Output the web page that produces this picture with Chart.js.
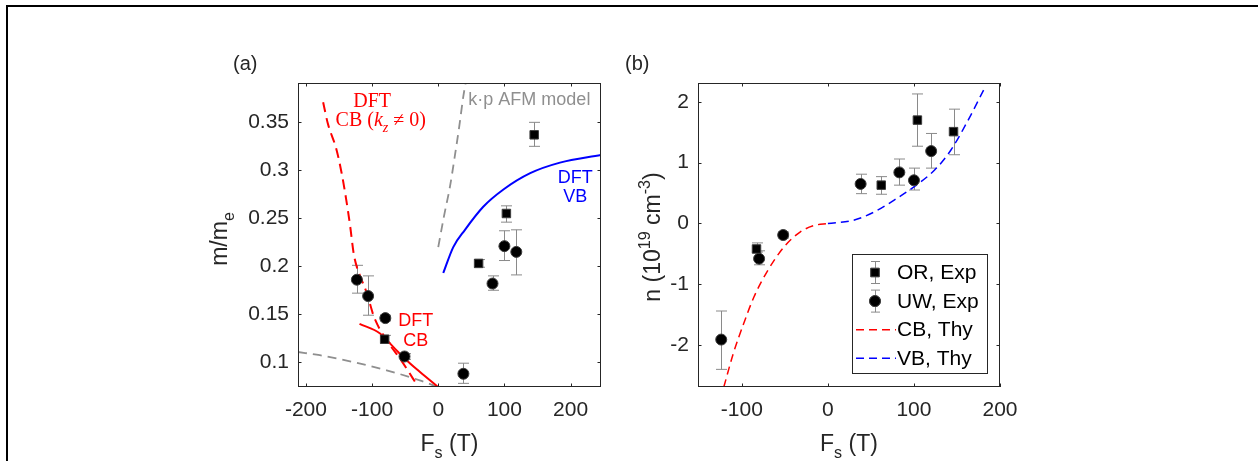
<!DOCTYPE html>
<html>
<head>
<meta charset="utf-8">
<script src="https://cdn.jsdelivr.net/npm/chart.js@4.4.1/dist/chart.umd.min.js"></script>
<style>
  html, body { margin: 0; padding: 0; background: #fff; }
  #wrap { position: relative; width: 1258px; height: 461px; overflow: hidden; }
  #frame { position: absolute; left: 6px; top: 5px; width: 1300px; height: 500px;
           border-top: 2px solid #000; border-left: 2px solid #000; }
  canvas { position: absolute; left: 0; top: 0; }
</style>
</head>
<body>
<div id="wrap">
  <div id="frame"></div>
  <canvas id="chartA" width="1258" height="461"></canvas>
  <canvas id="chartB" width="1258" height="461"></canvas>
</div>
<script>
// ---- panel (a): effective mass ----
const xTicksA = [-200, -100, 0, 100, 200]
const yTicksA = [0.1, 0.15, 0.2, 0.25, 0.3, 0.35]

const orA_x = [145, 103, 61, -81]
const orA_y = [0.337, 0.255, 0.203, 0.124]
const orA_lo = [0.325, 0.246, 0.199, 0.120]
const orA_hi = [0.350, 0.263, 0.207, 0.128]

const uwA_x = [-123, -106, -80, -51, 38, 82, 100, 118]
const uwA_y = [0.186, 0.169, 0.146, 0.106, 0.088, 0.182, 0.221, 0.215]
const uwA_lo = [0.172, 0.149, 0.143, 0.103, 0.078, 0.175, 0.206, 0.191]
const uwA_hi = [0.201, 0.190, 0.149, 0.109, 0.099, 0.190, 0.237, 0.238]

const cbKzA_x = [-174, -167, -154, -146, -139, -133, -128, -123, -117, -108, -97, -78, -56, -30]
const cbKzA_y = [0.371, 0.349, 0.322, 0.297, 0.269, 0.241, 0.214, 0.199, 0.188, 0.172, 0.147, 0.123, 0.102, 0.074]
const cbA_x = [-119, -88, -68, -48, -28, 0]
const cbA_y = [0.140, 0.130, 0.116, 0.102, 0.090, 0.074]
const kpLowA_x = [-212, -179, -129, -78, -28, 0]
const kpLowA_y = [0.1107, 0.1073, 0.1003, 0.0916, 0.0811, 0.074]
const kpUpA_x = [0, 8.6, 17.7, 25.3, 31.8, 37.9, 41.4]
const kpUpA_y = [0.220, 0.252, 0.283, 0.316, 0.346, 0.377, 0.391]
const vbA_x = [7.6, 22.7, 40.4, 68, 98.5, 139, 184, 246]
const vbA_y = [0.193, 0.220, 0.238, 0.262, 0.280, 0.297, 0.308, 0.316]

// ---- panel (b): carrier density ----
const xTicksB = [-100, 0, 100, 200]
const yTicksB = [-2, -1, 0, 1, 2]

const orB_x = [-83, 62, 104, 146]
const orB_y = [-0.42, 0.63, 1.70, 1.51]
const orB_lo = [-0.47, 0.48, 1.27, 1.13]
const orB_hi = [-0.32, 0.77, 2.13, 1.88]

const uwB_x = [-124, -80, -52, 38, 83, 100, 120]
const uwB_y = [-1.91, -0.58, -0.19, 0.65, 0.84, 0.71, 1.19]
const uwB_lo = [-2.40, -0.68, -0.24, 0.49, 0.63, 0.55, 0.91]
const uwB_hi = [-1.44, -0.45, -0.14, 0.81, 1.06, 0.91, 1.48]

const cbB_x = [-121, -110, -98, -86, -71, -51, -32, -16, 0]
const cbB_y = [-2.69, -2.14, -1.65, -1.21, -0.80, -0.385, -0.138, -0.034, 0]
const vbB_x = [0, 30, 54, 77, 100, 124, 143, 163, 181]
const vbB_y = [0, 0.054, 0.19, 0.384, 0.603, 0.878, 1.208, 1.70, 2.196]

const SANS = '"Liberation Sans", Arial, Helvetica, sans-serif'
const SERIF = '"Liberation Serif", "DejaVu Serif", serif'
const INK = '#262626'
const ERR = '#8a8a8a'
const TICK_FONT = 21
const TITLE_FONT = 23

const pts = (xs, ys) => xs.map((x, i) => ({ x: x, y: ys[i] }))

function drawRich(ctx, parts, x, y, o) {
    const size = o.size, family = o.family || SANS
    const fontOf = p => (p.italic ? 'italic ' : '') + ((p.sub || p.sup) ? size * 0.7 : size) + 'px ' + family
    let total = 0
    parts.forEach(p => { ctx.font = fontOf(p); p.w = ctx.measureText(p.t).width; total += p.w })
    ctx.save()
    ctx.translate(x, y)
    ctx.rotate(o.angle || 0)
    ctx.fillStyle = o.color || INK
    ctx.textBaseline = 'alphabetic'
    ctx.textAlign = 'left'
    let cx = o.align === 'left' ? 0 : o.align === 'right' ? -total : -total / 2
    parts.forEach(p => {
        ctx.font = fontOf(p)
        ctx.fillText(p.t, cx, p.sub ? size * 0.3 : p.sup ? -size * 0.42 : 0)
        cx += p.w
    })
    ctx.restore()
}

function drawErrBar(ctx, x, y1, y2, cap) {
    ctx.beginPath()
    ctx.moveTo(x, y1); ctx.lineTo(x, y2)
    ctx.moveTo(x - cap, y1); ctx.lineTo(x + cap, y1)
    ctx.moveTo(x - cap, y2); ctx.lineTo(x + cap, y2)
    ctx.stroke()
}

function axisConfig(min, max, tickList, fix, pad) {
    return {
        type: 'linear', min: min, max: max,
        grid: { display: false, drawTicks: false }, border: { display: false },
        afterBuildTicks: s => { s.ticks = tickList.map(v => ({ value: v })) },
        afterFit: fix,
        ticks: { font: { family: SANS, size: TICK_FONT }, color: INK, padding: pad, maxRotation: 0, callback: v => String(v) }
    }
}

// box, inward ticks, error bars, titles, labels
function decoPlugin(deco) {
    return {
        id: 'deco',
        beforeDatasetsDraw(chart) {
            const ctx = chart.ctx, xs = chart.scales.x, ys = chart.scales.y
            ctx.save()
            ctx.strokeStyle = ERR
            ctx.lineWidth = 1
            chart.data.datasets.forEach(ds => {
                if (!ds.errLo) return
                ds.data.forEach((p, i) => {
                    drawErrBar(ctx, Math.round(xs.getPixelForValue(p.x)) + 0.5,
                        ys.getPixelForValue(ds.errLo[i]), ys.getPixelForValue(ds.errHi[i]), 5.5)
                })
            })
            ctx.restore()
        },
        afterDraw(chart) {
            const ctx = chart.ctx, a = chart.chartArea
            const xs = chart.scales.x, ys = chart.scales.y
            ctx.save()
            ctx.strokeStyle = INK
            ctx.lineWidth = 1
            ctx.strokeRect(a.left + 0.5, a.top + 0.5, a.right - a.left - 1, a.bottom - a.top - 1)
            ctx.beginPath()
            const tl = 3.5
            xs.ticks.forEach(t => {
                const px = Math.round(xs.getPixelForValue(t.value)) + 0.5
                ctx.moveTo(px, a.bottom); ctx.lineTo(px, a.bottom - tl)
                ctx.moveTo(px, a.top); ctx.lineTo(px, a.top + tl)
            })
            ys.ticks.forEach(t => {
                const py = Math.round(ys.getPixelForValue(t.value)) + 0.5
                ctx.moveTo(a.left, py); ctx.lineTo(a.left + tl, py)
                ctx.moveTo(a.right, py); ctx.lineTo(a.right - tl, py)
            })
            ctx.stroke()
            ctx.restore()

            const cx = (a.left + a.right) / 2, cy = (a.top + a.bottom) / 2
            drawRich(ctx, [{ t: 'F' }, { t: 's', sub: true }, { t: ' (T)' }], cx, a.bottom + 64, { size: TITLE_FONT })
            drawRich(ctx, deco.yTitle, a.left - deco.yTitleGap, cy + deco.yTitleShift, { size: TITLE_FONT, angle: -Math.PI / 2 })
            drawRich(ctx, [{ t: deco.letter }], a.left - deco.letterGap, a.top - 13, { size: 20, align: 'left' })

            deco.notes.forEach(n => {
                drawRich(ctx, n.parts, xs.getPixelForValue(n.x), ys.getPixelForValue(n.y),
                    { size: n.size, color: n.color, family: n.family, align: n.align })
            })
            if (deco.legend) deco.legend(chart)
        }
    }
}

// legend of panel (b), drawn in the lower right corner of the axes
function legendB(chart) {
    const ctx = chart.ctx, a = chart.chartArea
    const w = 135, h = 119
    const L = a.right - 13 - w, T = a.bottom - 14 - h
    const rows = [0, 1, 3, 2].map(i => chart.data.datasets[i])
    ctx.save()
    ctx.fillStyle = '#fff'
    ctx.fillRect(L, T, w, h)
    ctx.strokeStyle = INK
    ctx.lineWidth = 1
    ctx.strokeRect(Math.round(L) + 0.5, Math.round(T) + 0.5, w, h)
    rows.forEach((ds, k) => {
        const y = T + 18.5 + k * 28.6
        const mx = L + 23
        if (ds.errLo) {
            ctx.strokeStyle = ERR
            drawErrBar(ctx, Math.round(mx) + 0.5, y - 11, y + 11, 4.5)
            Chart.helpers.drawPoint(ctx, {
                pointStyle: ds.pointStyle, radius: ds.pointRadius,
                borderWidth: ds.borderWidth
            }, mx, y)
            ctx.fillStyle = ds.backgroundColor
            ctx.strokeStyle = ds.borderColor
            ctx.fill()
            ctx.stroke()
        } else {
            ctx.strokeStyle = ds.borderColor
            ctx.lineWidth = ds.borderWidth
            ctx.setLineDash(ds.borderDash)
            ctx.beginPath()
            ctx.moveTo(L + 4, y); ctx.lineTo(L + 44, y)
            ctx.stroke()
            ctx.setLineDash([])
            ctx.lineWidth = 1
        }
        ctx.fillStyle = '#000'
        ctx.font = TICK_FONT + 'px ' + SANS
        ctx.textBaseline = 'middle'
        ctx.textAlign = 'left'
        ctx.fillText(ds.label, L + 45, y + 1)
    })
    ctx.restore()
}

const markerSq = { pointStyle: 'rect', pointRadius: 6, backgroundColor: '#000', borderColor: '#3c3c3c', borderWidth: 1 }
const markerCi = { pointStyle: 'circle', pointRadius: 5.5, backgroundColor: '#000', borderColor: '#3c3c3c', borderWidth: 1 }
const curve = (label, xs, ys, color, width, dash) => ({
    label: label, data: pts(xs, ys), showLine: true, pointRadius: 0,
    borderColor: color, borderWidth: width, borderDash: dash,
    cubicInterpolationMode: 'monotone', fill: false
})

window.addEventListener('load', function () {
    const base = {
        responsive: false, animation: false, devicePixelRatio: 1,
        plugins: { legend: { display: false }, tooltip: { enabled: false } }
    }

    new Chart(document.getElementById('chartA').getContext('2d'), {
        type: 'scatter',
        data: {
            datasets: [
                Object.assign({ label: 'OR, Exp', data: pts(orA_x, orA_y), errLo: orA_lo, errHi: orA_hi }, markerSq),
                Object.assign({ label: 'UW, Exp', data: pts(uwA_x, uwA_y), errLo: uwA_lo, errHi: uwA_hi }, markerCi),
                curve('DFT CB (kz≠0)', cbKzA_x, cbKzA_y, '#ff0000', 2, [10, 6]),
                curve('DFT CB', cbA_x, cbA_y, '#ff0000', 2, []),
                curve('k·p AFM model', kpLowA_x, kpLowA_y, '#8f8f8f', 1.8, [9, 6]),
                curve('k·p AFM model', kpUpA_x, kpUpA_y, '#8f8f8f', 1.8, [9, 6]),
                curve('DFT VB', vbA_x, vbA_y, '#0000ff', 2, [])
            ]
        },
        options: Object.assign({}, base, {
            layout: { padding: { left: 200, top: 83, right: 657, bottom: 0 } },
            scales: {
                x: axisConfig(-212, 246, xTicksA, s => { s.height = 74 }, 11),
                y: axisConfig(0.0742, 0.391, yTicksA, s => { s.width = 98 }, 9)
            }
        }),
        plugins: [decoPlugin({
            letter: '(a)', letterGap: 65,
            yTitle: [{ t: 'm/m' }, { t: 'e', sub: true }], yTitleGap: 71, yTitleShift: 4,
            notes: [
                { parts: [{ t: 'DFT' }], x: -100, y: 0.3657, size: 20, color: '#ff0000', family: SERIF },
                { parts: [{ t: 'CB (' }, { t: 'k', italic: true }, { t: 'z', italic: true, sub: true }, { t: ' ≠ 0)' }],
                  x: -87, y: 0.3466, size: 20, color: '#ff0000', family: SERIF },
                { parts: [{ t: 'k·p AFM model' }], x: 45.5, y: 0.3678, size: 18, color: '#8f8f8f', align: 'left' },
                { parts: [{ t: 'DFT' }], x: 207, y: 0.2873, size: 18, color: '#0000ff' },
                { parts: [{ t: 'VB' }], x: 207, y: 0.2675, size: 18, color: '#0000ff' },
                { parts: [{ t: 'DFT' }], x: -34, y: 0.1375, size: 18, color: '#ff0000' },
                { parts: [{ t: 'CB' }], x: -34, y: 0.1167, size: 18, color: '#ff0000' }
            ]
        })]
    })

    new Chart(document.getElementById('chartB').getContext('2d'), {
        type: 'scatter',
        data: {
            datasets: [
                Object.assign({ label: 'OR, Exp', data: pts(orB_x, orB_y), errLo: orB_lo, errHi: orB_hi }, markerSq),
                Object.assign({ label: 'UW, Exp', data: pts(uwB_x, uwB_y), errLo: uwB_lo, errHi: uwB_hi }, markerCi),
                curve('VB, Thy', vbB_x, vbB_y, '#0000ff', 1.5, [8, 5]),
                curve('CB, Thy', cbB_x, cbB_y, '#ff0000', 1.5, [8, 5])
            ]
        },
        options: Object.assign({}, base, {
            layout: { padding: { left: 600, top: 83, right: 258, bottom: 0 } },
            scales: {
                x: axisConfig(-151, 200, xTicksB, s => { s.height = 74 }, 11),
                y: axisConfig(-2.69, 2.31, yTicksB, s => { s.width = 98 }, 9)
            }
        }),
        plugins: [decoPlugin({
            letter: '(b)', letterGap: 73,
            yTitle: [{ t: 'n (10' }, { t: '19', sup: true }, { t: ' cm' }, { t: '-3', sup: true }, { t: ')' }],
            yTitleGap: 38, yTitleShift: 2,
            notes: [],
            legend: legendB
        })]
    })
})
</script>
</body>
</html>
